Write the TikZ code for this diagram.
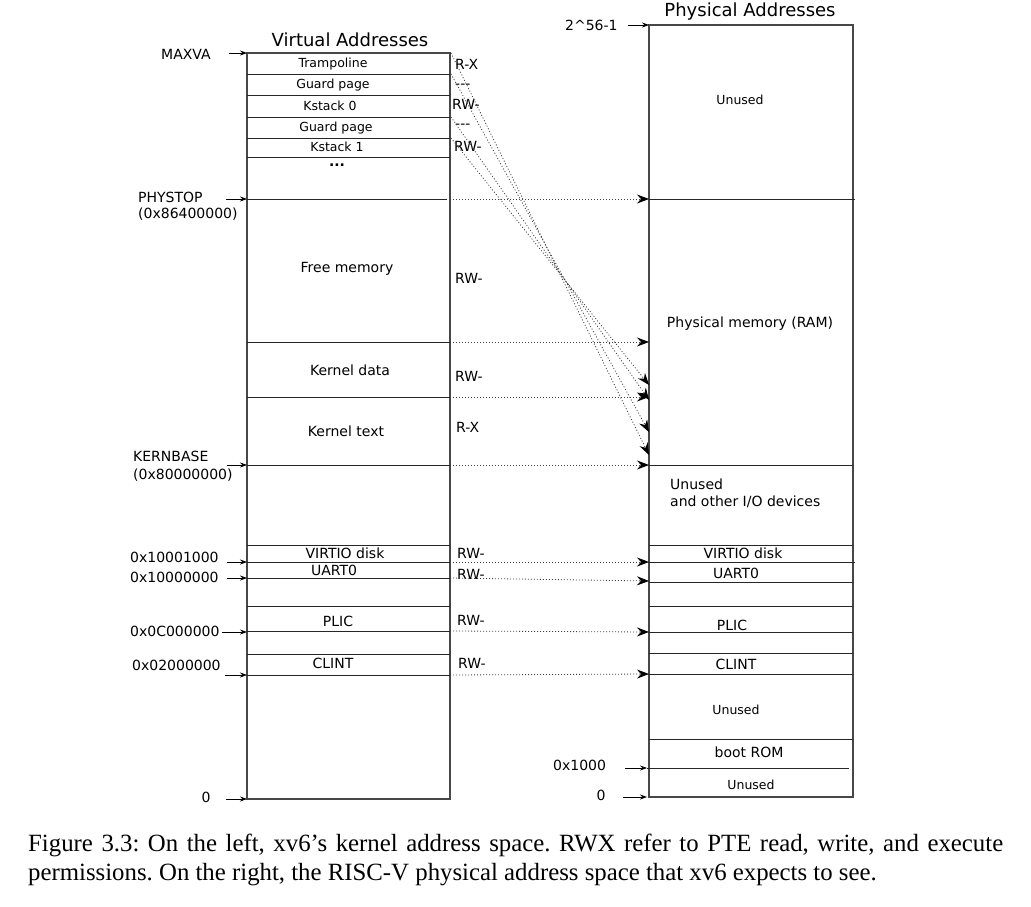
\documentclass[tikz,border=0pt]{standalone}
\usepackage{fontspec}
\setmainfont{DejaVu Sans}
\newfontfamily\capfont{Liberation Serif}
\usetikzlibrary{arrows.meta}
\begin{document}
\begin{tikzpicture}[x=1pt,y=-1pt,
  boxline/.style={draw=black!72,line width=1.5pt},
  sepline/.style={draw=black!85,line width=0.9pt},
  lbl/.style={inner sep=0pt,font=\fontsize{14}{16}\selectfont},
  sml/.style={inner sep=0pt,font=\fontsize{12.5}{14}\selectfont},
  ttl/.style={inner sep=0pt,font=\fontsize{18}{20}\selectfont},
  ptr/.style={draw=black,line width=0.7pt,-{Stealth[length=7pt,width=5pt]}},
  maparrow/.style={draw=black!75,line width=0.8pt,dash pattern=on 1pt off 2pt,
     -{Stealth[black,length=12pt,width=9pt,inset=4pt]}},
  captext/.style={inner sep=0pt,anchor=west,font=\capfont\fontsize{24.8}{29}\selectfont}]
\useasboundingbox (0,0) rectangle (1031,907);

% ---------- left box ----------
\draw[boxline] (247,53) rectangle (450,799);
\foreach \yy in {74,95,117,138,157,342,397,465,545,562,578,606,631,654,675}
  \draw[sepline] (247,\yy) -- (450,\yy);
\draw[sepline] (247,199) -- (447,199);

\node[ttl] (vtitle) at (350,40) {Virtual Addresses};
\node[sml] (tramp) at (333,64) {Trampoline};
\node[sml] (guard0) at (333,85) {Guard page};
\node[sml] (ks0) at (330,106) {Kstack 0};
\node[sml] (guard1) at (336,128) {Guard page};
\node[sml] (ks1) at (337,147) {Kstack 1};
\node[lbl,font=\fontsize{14}{16}\selectfont\bfseries] (vdots) at (337,165) {...};
\node[lbl] (free) at (347,269) {Free memory};
\node[lbl] (kdata) at (350,370) {Kernel data};
\node[lbl] (ktext) at (346,431) {Kernel text};
\node[lbl] (vvirtio) at (345,553) {VIRTIO disk};
\node[lbl] (vuart) at (334,570) {UART0};
\node[lbl] (vplic) at (338,621) {PLIC};
\node[lbl] (vclint) at (333,663) {CLINT};

% permissions
\node[lbl,anchor=west] (p1) at (455,64) {R-X};
\node[lbl,anchor=west] (p2) at (455,86) {-{}-{}-};
\node[lbl,anchor=west] (p3) at (452,104) {RW-};
\node[lbl,anchor=west] (p4) at (455,126) {-{}-{}-};
\node[lbl,anchor=west] (p5) at (454,146) {RW-};
\node[lbl,anchor=west] (p6) at (455,278) {RW-};
\node[lbl,anchor=west] (p7) at (455,376) {RW-};
\node[lbl,anchor=west] (p8) at (456,427) {R-X};
\node[lbl,anchor=west] (p9) at (457,553) {RW-};
\node[lbl,anchor=west] (p10) at (457,574) {RW-};
\node[lbl,anchor=west] (p11) at (457,620) {RW-};
\node[lbl,anchor=west] (p12) at (458,663) {RW-};

% outside labels left
\node[lbl,anchor=west] (maxva) at (161,54) {MAXVA};
\node[lbl,anchor=west] (phystop) at (138,197) {PHYSTOP};
\node[lbl,anchor=west] (phystopv) at (138,214) {(0x86400000)};
\node[lbl,anchor=west] (kernbase) at (133,456) {KERNBASE};
\node[lbl,anchor=west] (kernbasev) at (133,475) {(0x80000000)};
\node[lbl,anchor=west] (a1) at (130,557) {0x10001000};
\node[lbl,anchor=west] (a2) at (130,577) {0x10000000};
\node[lbl,anchor=west] (a3) at (130,631) {0x0C000000};
\node[lbl,anchor=west] (a4) at (132,665) {0x02000000};
\node[lbl] (zl) at (206,797) {0};

\coordinate (cmaxva) at (229,53);   \coordinate (emaxva) at (247,53);
\coordinate (cphys) at (226,199);   \coordinate (ephys) at (247,199);
\coordinate (ckern) at (227,465);   \coordinate (ekern) at (247,465);
\coordinate (ca1) at (227,562);     \coordinate (ea1) at (247,562);
\coordinate (ca2) at (227,578);     \coordinate (ea2) at (247,578);
\coordinate (ca3) at (222,632);     \coordinate (ea3) at (247,632);
\coordinate (ca4) at (225,675);     \coordinate (ea4) at (247,675);
\coordinate (czl) at (226,799);     \coordinate (ezl) at (247,799);
\foreach \s/\e in {cmaxva/emaxva,cphys/ephys,ckern/ekern,ca1/ea1,ca2/ea2,ca3/ea3,ca4/ea4,czl/ezl}
  \draw[ptr] (\s) -- (\e);

% ---------- right box ----------
\draw[boxline] (649,25) rectangle (853,797);
\foreach \yy in {465,545,582,606,632,653,674,739}
  \draw[sepline] (649,\yy) -- (853,\yy);
\draw[sepline] (649,199) -- (855,199);
\draw[sepline] (649,562) -- (855,562);
\draw[sepline] (647,768) -- (849,768);

\node[ttl] (ptitle) at (750,12) {Physical Addresses};
\node[sml] (unused1) at (740,100) {Unused};
\node[lbl] (ram) at (750,324) {Physical memory (RAM)};
\node[lbl,anchor=west] (unused2) at (670,484) {Unused};
\node[lbl,anchor=west] (iodev) at (670,502) {and other I/O devices};
\node[lbl] (pvirtio) at (743,553) {VIRTIO disk};
\node[lbl] (puart) at (736,573) {UART0};
\node[lbl] (pplic) at (732,625) {PLIC};
\node[lbl] (pclint) at (736,664) {CLINT};
\node[sml] (unused3) at (736,710) {Unused};
\node[lbl] (brom) at (749,752) {boot ROM};
\node[sml] (unused4) at (751,785) {Unused};

\node[lbl,anchor=west] (top) at (565,25) {2\textasciicircum 56-1};
\node[lbl,anchor=west] (a1000) at (553,765) {0x1000};
\node[lbl] (zr) at (601,795) {0};
\coordinate (ctop) at (628,25);   \coordinate (etop) at (649,25);
\coordinate (c1000) at (625,768); \coordinate (e1000) at (647,768);
\coordinate (czr) at (623,797);   \coordinate (ezr) at (647,797);
\foreach \s/\e in {ctop/etop,c1000/e1000,czr/ezr}
  \draw[ptr] (\s) -- (\e);

% ---------- mapping arrows ----------
\coordinate (v199) at (450,199); \coordinate (r199) at (649,199);
\coordinate (v342) at (450,342); \coordinate (r342) at (649,342);
\coordinate (v397) at (450,397); \coordinate (r397) at (649,397);
\coordinate (v465) at (450,465); \coordinate (r465) at (649,465);
\coordinate (v562) at (450,562); \coordinate (r562) at (649,562);
\coordinate (v578) at (450,578); \coordinate (r578) at (649,581);
\coordinate (v631) at (450,631); \coordinate (r631) at (649,632);
\coordinate (v675) at (450,675); \coordinate (r675) at (649,674);
\foreach \n in {199,342,397,465,562,578,631,675}
  \draw[maparrow] (v\n) -- (r\n);

\coordinate (d1s) at (451,53);  \coordinate (d1e) at (649,455);
\coordinate (d2s) at (451,74);  \coordinate (d2e) at (649,432);
\coordinate (d3s) at (451,117); \coordinate (d3e) at (649,400);
\coordinate (d4s) at (451,138); \coordinate (d4e) at (649,385);
\foreach \n in {1,2,3,4}
  \draw[maparrow] (d\n s) -- (d\n e);

% ---------- caption ----------
\node[captext] (cap1) at (28,845)
  {\frenchspacing\makebox[975pt][s]{Figure 3.3: On the left, xv6’s kernel address space. RWX refer to PTE read, write, and execute}};
\node[captext] (cap2) at (28,875)
  {\frenchspacing permissions. On the right, the RISC-V physical address space that xv6 expects to see.};
\end{tikzpicture}
\end{document}
